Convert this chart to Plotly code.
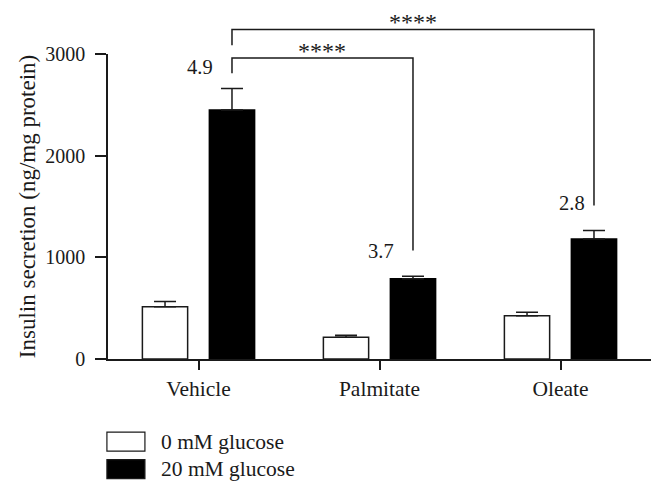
import plotly.graph_objects as go

# ---- data ----
categories = ["Vehicle", "Palmitate", "Oleate"]
series_names = ["0 mM glucose", "20 mM glucose"]
glucose_0 = [515, 215, 425]
glucose_0_err = [50, 18, 35]
glucose_20 = [2450, 790, 1180]
glucose_20_err = [210, 25, 85]
fold_labels = ["4.9", "3.7", "2.8"]
fold_label_y = [2870, 1065, 1537]
y_ticks = [0, 1000, 2000, 3000]
y_max = 3000

# significance brackets: (from category, to category, top, left drop, right drop, label, label y)
brackets = [
    (0, 1, 2960, 2810, 1067, "****", 3072),
    (0, 2, 3240, 3087, 1510, "****", 3351),
]

FONT = "Liberation Serif"
INK = "#1a1a1a"
BAR_W = 0.25
OFF = 0.185

fig = go.Figure()
fig.add_trace(go.Bar(
    x=categories, y=glucose_0, name=series_names[0],
    width=BAR_W, offset=-OFF - BAR_W / 2,
    marker=dict(color="white", line=dict(color=INK, width=1.5)),
    error_y=dict(type="data", array=glucose_0_err, arrayminus=[0] * 3,
                 symmetric=False, color=INK, thickness=1.5, width=11),
    showlegend=False,
))
fig.add_trace(go.Bar(
    x=categories, y=glucose_20, name=series_names[1],
    width=BAR_W, offset=OFF - BAR_W / 2,
    marker=dict(color="black", line=dict(color="black", width=1.5)),
    error_y=dict(type="data", array=glucose_20_err, arrayminus=[0] * 3,
                 symmetric=False, color=INK, thickness=1.5, width=11),
    showlegend=False,
))

shapes = []
annotations = []
line_style = dict(color=INK, width=1.5)
for (a, b, top, ldrop, rdrop, lab, laby) in brackets:
    xa, xb = a + OFF, b + OFF
    pts = [(xa, ldrop), (xa, top), (xb, top), (xb, rdrop)]
    path = "M " + " L ".join(f"{x},{y / y_max}" for x, y in pts)
    shapes.append(dict(type="path", xref="x", yref="paper", path=path, line=line_style))
    annotations.append(dict(x=(xa + xb) / 2, y=laby / y_max, xref="x", yref="paper",
                            text=lab, showarrow=False, xanchor="center", yanchor="middle",
                            yshift=-4, font=dict(family=FONT, size=24, color=INK)))

label_dx = [0.008, 0.008, 0.064]
for i, (lab, ly) in enumerate(zip(fold_labels, fold_label_y)):
    annotations.append(dict(x=i + label_dx[i], y=ly / y_max, xref="x", yref="paper",
                            text=lab, showarrow=False, xanchor="center", yanchor="middle",
                            font=dict(family=FONT, size=20.5, color=INK)))

# y axis title
annotations.append(dict(x=-0.148, y=0.5, xref="paper", yref="paper",
                        text="Insulin secretion (ng/mg protein)", textangle=-90,
                        showarrow=False, xanchor="center", yanchor="middle",
                        font=dict(family=FONT, size=23, color=INK)))

# manual legend
leg_fill = ["white", "black"]
leg_y = [(-0.240, -0.302), (-0.330, -0.392)]
for name, fill, (y0, y1) in zip(series_names, leg_fill, leg_y):
    shapes.append(dict(type="rect", xref="paper", yref="paper",
                       x0=-0.002, x1=0.068, y0=y0, y1=y1,
                       fillcolor=fill, line=dict(color=INK, width=1.2)))
    annotations.append(dict(x=0.094, y=(y0 + y1) / 2, xref="paper", yref="paper",
                            text=name, showarrow=False, xanchor="left", yanchor="middle",
                            font=dict(family=FONT, size=21.5, color=INK)))

# page body has an 8px margin, so the figure is sized to fit the window
fig.update_layout(
    width=656, height=487,
    margin=dict(l=100, r=13, t=46, b=136),
    paper_bgcolor="white", plot_bgcolor="white",
    barmode="overlay",
    shapes=shapes, annotations=annotations,
    font=dict(family=FONT, size=20, color=INK),
    xaxis=dict(type="category", range=[-0.5, 2.5], showline=True, linecolor=INK,
               linewidth=1.5, ticks="outside", ticklen=9, tickwidth=1.5, tickcolor=INK,
               showgrid=False, zeroline=False, tickfont=dict(family=FONT, size=21.5, color=INK)),
    yaxis=dict(range=[0, y_max], tickvals=y_ticks, showline=True, linecolor=INK,
               linewidth=1.5, ticks="outside", ticklen=11, tickwidth=1.5, tickcolor=INK,
               showgrid=False, zeroline=False, ticklabelstandoff=6,
               tickfont=dict(family=FONT, size=20, color=INK)),
)

fig.write_html("out.html")
